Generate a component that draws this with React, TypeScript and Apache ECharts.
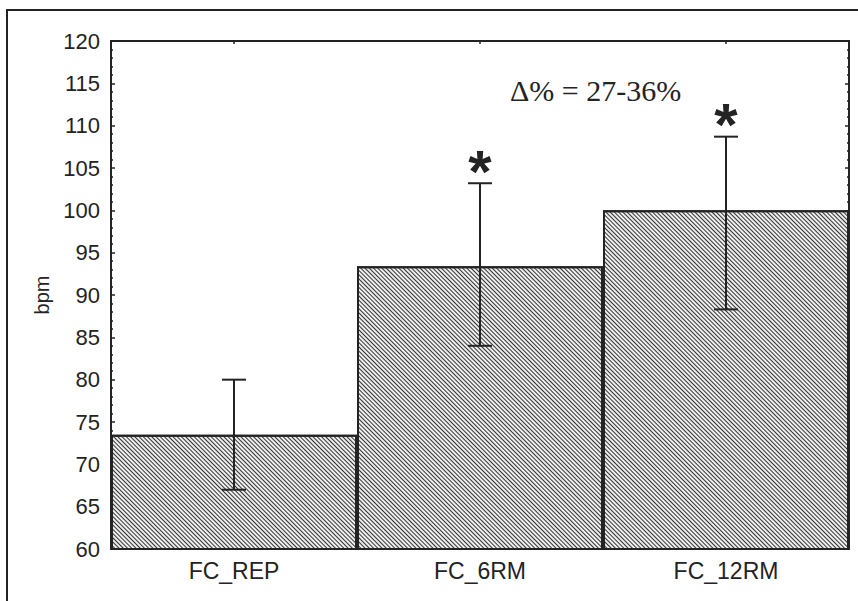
import React, { useEffect, useRef } from "react";
import * as echarts from "echarts";

const categories = ["FC_REP", "FC_6RM", "FC_12RM"];
const means = [73.5, 93.4, 100.0];
const errLow = [67.0, 84.0, 88.3];
const errHigh = [80.0, 103.2, 108.7];
const significant = [false, true, true];
const yTicks = { min: 60, max: 120, interval: 5 };
const annotation = "\u0394% = 27-36%";

const INK = "#232323";

export default function App() {
  const ref = useRef<HTMLDivElement>(null);
  useEffect(() => {
    if (!ref.current) return;
    const chart = echarts.init(ref.current, undefined, { renderer: "svg" });
    const errData = categories.map((_, i) => [i, errLow[i], errHigh[i], significant[i] ? 1 : 0]);
    const axisLabelFont = { fontFamily: "Liberation Sans", color: INK };
    const yBase = {
      type: "value" as const,
      min: yTicks.min,
      max: yTicks.max,
      interval: yTicks.interval,
      splitLine: { show: false },
      axisLine: { show: true, lineStyle: { color: INK, width: 2 } },
      axisTick: { show: true, inside: true, length: 4, lineStyle: { color: INK, width: 1.5 } },
      minorTick: { show: true, splitNumber: 5, length: 2, lineStyle: { color: INK, width: 1.5 } },
    };
    const xBase = {
      type: "category" as const,
      data: categories,
      axisLine: { show: true, lineStyle: { color: INK, width: 2 } },
      axisTick: { show: true, inside: true, alignWithLabel: true, length: 3, lineStyle: { color: INK, width: 1.5 } },
    };
    chart.setOption({
      animation: false,
      grid: { left: 111, right: 9, top: 41, bottom: 52, containLabel: false },
      xAxis: [
        { ...xBase, position: "bottom", axisLabel: { ...axisLabelFont, fontSize: 23, margin: 10 } },
        { ...xBase, position: "top", axisLabel: { show: false } },
      ],
      yAxis: [
        {
          ...yBase,
          position: "left",
          name: "bpm",
          nameLocation: "middle",
          nameGap: 58,
          nameRotate: 90,
          nameTextStyle: { fontFamily: "Liberation Sans", fontSize: 20, color: INK },
          axisLabel: { ...axisLabelFont, fontSize: 22, margin: 11 },
        },
        { ...yBase, position: "right", axisLabel: { show: false } },
      ],
      series: [
        {
          type: "bar",
          data: means,
          barCategoryGap: "0%",
          itemStyle: {
            color: "#eeeeee",
            borderColor: INK,
            borderWidth: 2,
            decal: {
              symbol: "rect",
              symbolSize: 1,
              dashArrayX: [1, 0],
              dashArrayY: [1, 1.5],
              rotation: Math.PI / 4,
              color: "#333333",
            },
          },
          z: 2,
        },
        {
          type: "custom",
          data: errData,
          z: 5,
          renderItem: (params: any, api: any) => {
            const i = api.value(0);
            const lo = api.coord([i, api.value(1)]);
            const hi = api.coord([i, api.value(2)]);
            const half = 12;
            const style = { stroke: INK, lineWidth: 2 };
            const children: any[] = [
              { type: "line", shape: { x1: lo[0], y1: lo[1], x2: hi[0], y2: hi[1] }, style },
              { type: "line", shape: { x1: lo[0] - half, y1: lo[1], x2: lo[0] + half, y2: lo[1] }, style },
              { type: "line", shape: { x1: hi[0] - half, y1: hi[1], x2: hi[0] + half, y2: hi[1] }, style },
            ];
            if (api.value(3) === 1) {
              children.push({
                type: "text",
                x: hi[0],
                y: hi[1] - 12,
                style: {
                  text: "*",
                  font: "bold 60px Liberation Sans",
                  fill: INK,
                  align: "center",
                  verticalAlign: "middle",
                },
              });
            }
            return { type: "group", children };
          },
        },
      ],
      graphic: [
        {
          type: "polyline",
          shape: { points: [[7, 601], [7, 10], [858, 10]] },
          style: { stroke: INK, lineWidth: 2, fill: "none" },
        },
        {
          type: "text",
          x: 510,
          y: 90,
          style: {
            text: annotation,
            font: "30px Liberation Serif",
            fill: INK,
            align: "left",
            verticalAlign: "middle",
          },
        },
      ],
    });
    return () => chart.dispose();
  }, []);
  return <div ref={ref} style={{ width: 858, height: 601, position: "absolute", left: 0, top: 0, background: "#fff" }} />;
}
